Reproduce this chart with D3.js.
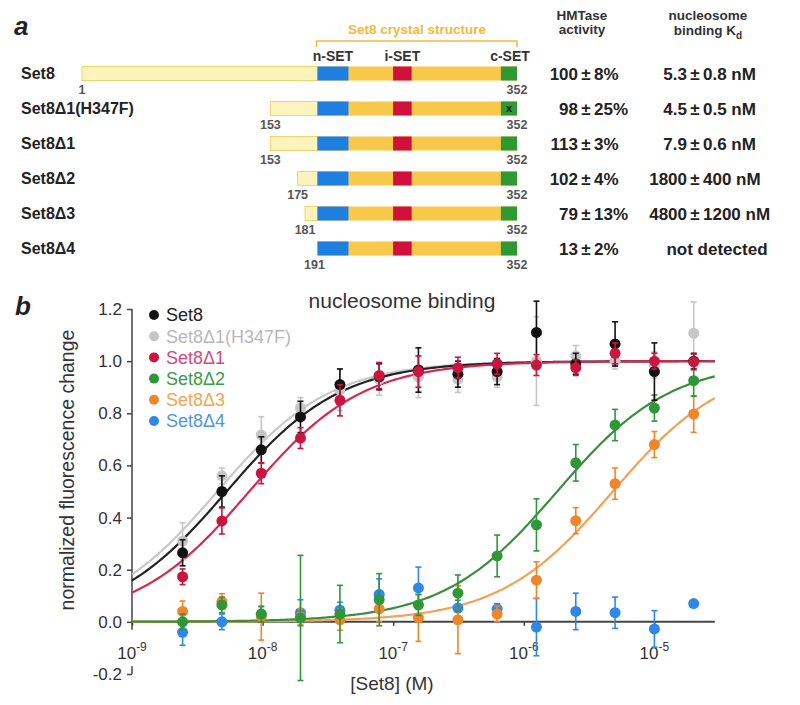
<!DOCTYPE html>
<html><head><meta charset="utf-8">
<script src="https://cdn.jsdelivr.net/npm/d3@7.8.5/dist/d3.min.js"></script>
<style>body{margin:0;background:#fff}svg{display:block}text{font-family:"Liberation Sans",Arial,Helvetica,sans-serif}</style>
</head><body>
<svg id="fig" width="800" height="705"></svg>
<script>
// ---------- Panel a data ----------
const constructs = ["Set8", "Set8Δ1(H347F)", "Set8Δ1", "Set8Δ2", "Set8Δ3", "Set8Δ4"];
const startRes = [1, 153, 153, 175, 181, 191];
const endRes = 352;
const crystalStart = 191;
const mutated = [false, true, false, false, false, false];
const domainNames = ["n-SET", "i-SET", "c-SET"];
const domainStart = [191, 252, 339];
const domainEnd = [216, 267, 352];
const hmtaseVal = [100, 98, 113, 102, 79, 13];
const hmtaseErr = [8, 25, 3, 4, 13, 2];
const kdVal = ["5.3", "4.5", "7.9", "1800", "4800", null];   // nM
const kdErr = ["0.8", "0.5", "0.6", "400", "1200", null];

// ---------- Panel b data ----------
const concM = [2.44e-9, 4.88e-9, 9.77e-9, 1.95e-8, 3.91e-8, 7.81e-8, 1.56e-7, 3.13e-7, 6.25e-7, 1.25e-6, 2.5e-6, 5e-6, 1e-5, 2e-5];
const seriesNames = ["Set8", "Set8Δ1(H347F)", "Set8Δ1", "Set8Δ2", "Set8Δ3", "Set8Δ4"];
const set8 =      [0.265, 0.50, 0.66, 0.786, 0.91, 0.94, 0.966, 0.95, 0.96, 1.11, 0.99, 1.066, 0.96, 1.0];
const set8Err =   [0.05, 0.06, 0.05, 0.06, 0.06, 0.05, 0.085, 0.05, 0.05, 0.12, 0.04, 0.085, 0.11, 0.03];
const h347f =     [0.31, 0.56, 0.717, 0.82, 0.89, 0.93, 0.94, 0.93, 0.94, 1.0, 1.02, 1.0, 0.985, 1.107];
const h347fErr =  [0.07, 0.03, 0.07, 0.04, 0.08, 0.06, 0.08, 0.05, 0.04, 0.17, 0.04, 0.03, 0.05, 0.12];
const d1 =        [0.173, 0.387, 0.57, 0.705, 0.85, 0.945, 0.96, 0.975, 0.99, 0.985, 0.975, 1.03, 1.0, 0.997];
const d1Err =     [0.03, 0.05, 0.04, 0.04, 0.06, 0.05, 0.06, 0.04, 0.04, 0.04, 0.03, 0.04, 0.03, 0.03];
const d2 =        [0.0, 0.065, 0.03, 0.015, 0.03, 0.085, 0.065, 0.11, 0.253, 0.372, 0.61, 0.755, 0.82, 0.925];
const d2Err =     [0.03, 0.03, 0.03, 0.24, 0.11, 0.10, 0.04, 0.07, 0.08, 0.10, 0.07, 0.06, 0.05, 0.06];
const d3v =       [0.04, 0.078, 0.02, 0.02, 0.008, 0.05, 0.015, 0.008, 0.03, 0.16, 0.388, 0.53, 0.68, 0.797];
const d3Err =     [0.04, 0.03, 0.09, 0.03, 0.04, 0.05, 0.09, 0.13, 0.03, 0.07, 0.05, 0.06, 0.05, 0.07];
const d4 =        [-0.04, 0.0, 0.028, 0.035, 0.045, 0.105, 0.13, 0.053, 0.05, -0.02, 0.04, 0.035, -0.027, 0.07];
const d4Err =     [0.05, 0.03, 0.03, 0.05, 0.03, 0.06, 0.08, 0.03, 0.02, 0.11, 0.07, 0.06, 0.07, 0];
const xTicks = [1e-9, 1e-8, 1e-7, 1e-6, 1e-5];
const xTickExp = ["-9", "-8", "-7", "-6", "-5"];
const yTicks = [-0.2, 0.0, 0.2, 0.4, 0.6, 0.8, 1.0, 1.2];
const yTickLabels = ["-0.2", "0.0", "0.2", "0.4", "0.6", "0.8", "1.0", "1.2"];

const svg = d3.select("#fig");
const serif = "'DejaVu Serif','Liberation Serif',serif";

// ================= PANEL A =================
svg.append("text").attr("x", 14).attr("y", 35).attr("font-family", serif)
  .attr("font-style", "italic").attr("font-weight", "bold").attr("font-size", 26).attr("fill", "#222").text("a");

const rx = d3.scaleLinear().domain([1, 352]).range([82, 517]);
const rowY = d3.scalePoint().domain(constructs).range([73.5, 248.5]);
const barH = 14;

// crystal bracket
const gold = "#f2b93b";
svg.append("path").attr("d", `M${rx(191)-1},47 V41 H${rx(352)} V47`).attr("fill", "none").attr("stroke", gold).attr("stroke-width", 1.5);
svg.append("text").attr("x", 417).attr("y", 34).attr("text-anchor", "middle").attr("font-size", 13.5)
  .attr("font-weight", "bold").attr("fill", gold).text("Set8 crystal structure");
domainNames.forEach((n, i) => {
  const cx = i === 2 ? rx(domainEnd[i]) - 7 : (rx(domainStart[i]) + rx(domainEnd[i])) / 2;
  svg.append("text").attr("x", cx).attr("y", 61).attr("text-anchor", "middle").attr("font-size", 14)
    .attr("font-weight", "bold").attr("fill", "#333").text(n);
});
const domColors = ["#1f7fe0", "#d2103c", "#2f9934"];

constructs.forEach((c, i) => {
  const yy = rowY(c);
  const g = svg.append("g");
  g.append("text").attr("x", 21).attr("y", yy).attr("dy", "0.36em").attr("font-size", 16)
    .attr("font-weight", "bold").attr("fill", "#222").text(c);
  if (startRes[i] < crystalStart) {
    g.append("rect").attr("x", rx(startRes[i])).attr("y", yy - barH / 2).attr("width", rx(crystalStart) - rx(startRes[i]))
      .attr("height", barH).attr("fill", "#fdf4bd").attr("stroke", "#f1d36c").attr("stroke-width", 1);
  }
  g.append("rect").attr("x", rx(crystalStart)).attr("y", yy - barH / 2).attr("width", rx(endRes) - rx(crystalStart))
    .attr("height", barH).attr("fill", "#f8c84b");
  domainNames.forEach((n, j) => {
    g.append("rect").attr("x", rx(domainStart[j])).attr("y", yy - barH / 2).attr("width", rx(domainEnd[j]) - rx(domainStart[j]))
      .attr("height", barH).attr("fill", domColors[j]);
  });
  if (mutated[i]) {
    g.append("text").attr("x", (rx(339) + rx(352)) / 2).attr("y", yy).attr("dy", "0.35em").attr("text-anchor", "middle")
      .attr("font-size", 11).attr("font-weight", "bold").attr("fill", "#111").text("x");
  }
  g.append("text").attr("x", rx(startRes[i]) - (startRes[i] === 191 ? 3 : 0)).attr("y", yy + 20).attr("text-anchor", "middle")
    .attr("font-size", 12.5).attr("font-weight", "bold").attr("fill", "#555").text(startRes[i]);
  g.append("text").attr("x", rx(endRes)).attr("y", yy + 20).attr("text-anchor", "middle")
    .attr("font-size", 12.5).attr("font-weight", "bold").attr("fill", "#555").text(endRes);

  // table values aligned on ±
  const pmA = 586, pmB = 695;
  g.append("text").attr("x", pmA - 8).attr("y", yy).attr("dy", "0.36em").attr("text-anchor", "end")
    .attr("font-size", 17).attr("font-weight", "bold").attr("fill", "#222").text(hmtaseVal[i]);
  g.append("text").attr("x", pmA).attr("y", yy).attr("dy", "0.36em").attr("text-anchor", "middle")
    .attr("font-size", 17).attr("font-weight", "bold").attr("fill", "#222").text("±");
  g.append("text").attr("x", pmA + 8).attr("y", yy).attr("dy", "0.36em").attr("text-anchor", "start")
    .attr("font-size", 17).attr("font-weight", "bold").attr("fill", "#222").text(hmtaseErr[i] + "%");
  if (kdVal[i] !== null) {
    g.append("text").attr("x", pmB - 8).attr("y", yy).attr("dy", "0.36em").attr("text-anchor", "end")
      .attr("font-size", 17).attr("font-weight", "bold").attr("fill", "#222").text(kdVal[i]);
    g.append("text").attr("x", pmB).attr("y", yy).attr("dy", "0.36em").attr("text-anchor", "middle")
      .attr("font-size", 17).attr("font-weight", "bold").attr("fill", "#222").text("±");
    g.append("text").attr("x", pmB + 8).attr("y", yy).attr("dy", "0.36em").attr("text-anchor", "start")
      .attr("font-size", 17).attr("font-weight", "bold").attr("fill", "#222").text(kdErr[i] + " nM");
  } else {
    g.append("text").attr("x", 717).attr("y", yy).attr("dy", "0.36em").attr("text-anchor", "middle")
      .attr("font-size", 17).attr("font-weight", "bold").attr("fill", "#222").text("not detected");
  }
});
// table headers
[["HMTase", 582, 20], ["activity", 582, 34], ["nucleosome", 708, 20]].forEach(h => {
  svg.append("text").attr("x", h[1]).attr("y", h[2]).attr("text-anchor", "middle").attr("font-size", 13.5)
    .attr("font-weight", "bold").attr("fill", "#333").text(h[0]);
});
const kdH = svg.append("text").attr("x", 708).attr("y", 35).attr("text-anchor", "middle").attr("font-size", 13.5)
  .attr("font-weight", "bold").attr("fill", "#333");
kdH.append("tspan").text("binding K");
kdH.append("tspan").attr("font-size", 10).attr("dy", 4).text("d");

// ================= PANEL B =================
svg.append("text").attr("x", 15).attr("y", 315).attr("font-family", serif)
  .attr("font-style", "italic").attr("font-weight", "bold").attr("font-size", 26).attr("fill", "#222").text("b");

const xs = d3.scaleLog().domain([1e-9, 1e-4]).range([132, 132 + 5 * 130.6]);
const ys = d3.scaleLinear().domain([-0.2, 1.2]).range([674, 309]);
const xEnd = 2.9e-5;
const axisCol = "#444";

// y axis
const ya = svg.append("g").attr("transform", "translate(132,0)")
  .call(d3.axisLeft(ys).tickValues(yTicks).tickFormat((d, i) => yTickLabels[i]).tickSize(5).tickPadding(5));
ya.select(".domain").remove();
ya.selectAll(".tick line").attr("stroke", axisCol).attr("stroke-width", 1.5);
ya.selectAll(".tick text").attr("font-size", 17).attr("fill", "#333").style("font-family", "'Liberation Sans',Arial,sans-serif");
svg.append("line").attr("x1", 132).attr("x2", 132).attr("y1", ys(1.2)).attr("y2", ys(-0.03)).attr("stroke", axisCol).attr("stroke-width", 1.5);
svg.append("line").attr("x1", 132).attr("x2", 132).attr("y1", ys(-0.17)).attr("y2", ys(-0.2)).attr("stroke", axisCol).attr("stroke-width", 1.5);

// x axis
svg.append("line").attr("x1", 132).attr("x2", xs(xEnd)).attr("y1", ys(0)).attr("y2", ys(0)).attr("stroke", axisCol).attr("stroke-width", 2);
const xa = svg.append("g").attr("transform", `translate(0,${ys(0)})`)
  .call(d3.axisBottom(xs).tickValues(xTicks).tickSize(4).tickFormat(""));
xa.select(".domain").remove();
xa.selectAll(".tick line").attr("stroke", axisCol).attr("stroke-width", 1.5);
xTicks.forEach((t, i) => {
  const tx = svg.append("text").attr("x", xs(t)).attr("y", 659).attr("text-anchor", "middle")
    .attr("font-size", 17).attr("fill", "#333");
  tx.append("tspan").text("10");
  tx.append("tspan").attr("font-size", 12).attr("dy", -8).text(xTickExp[i]);
});
svg.append("text").attr("x", 392).attr("y", 690).attr("text-anchor", "middle").attr("font-size", 19)
  .attr("fill", "#333").text("[Set8] (M)");
svg.append("text").attr("transform", "translate(74,470) rotate(-90)").attr("text-anchor", "middle")
  .attr("font-size", 19.5).attr("fill", "#333").text("normalized fluorescence change");
svg.append("text").attr("x", 402).attr("y", 308).attr("text-anchor", "middle").attr("font-size", 21)
  .attr("fill", "#333").text("nucleosome binding");

// series definitions
const series = [
  { name: seriesNames[5], vals: d4, err: d4Err, kd: null, color: "#2f88e8", line: null, legend: "#4f97dc" },
  { name: seriesNames[4], vals: d3v, err: d3Err, kd: kdVal[4], color: "#f0862a", line: "#f2a257", legend: "#f1a653" },
  { name: seriesNames[3], vals: d2, err: d2Err, kd: kdVal[3], color: "#2e9838", line: "#3a8e3e", legend: "#3e9b48" },
  { name: seriesNames[1], vals: h347f, err: h347fErr, kd: kdVal[1], color: "#c6c6c6", line: "#c9c9c9", legend: "#b9b9b9" },
  { name: seriesNames[0], vals: set8, err: set8Err, kd: kdVal[0], color: "#111111", line: "#222222", legend: "#222222" },
  { name: seriesNames[2], vals: d1, err: d1Err, kd: kdVal[2], color: "#cc1441", line: "#d42a52", legend: "#d24a7c" }
];

// fitted binding curves: fraction bound = [Set8] / (Kd + [Set8]) using Kd from the table
const curveX = d3.range(0, 201).map(i => Math.pow(10, Math.log10(1e-9) + i / 200 * (Math.log10(xEnd) + 9)));
const lineGen = d3.line().x(d => xs(d[0])).y(d => ys(d[1]));
series.forEach(s => {
  if (!s.kd) return;
  const kdM = +s.kd * 1e-9;
  svg.append("path").attr("d", lineGen(curveX.map(c => [c, c / (kdM + c)])))
    .attr("fill", "none").attr("stroke", s.line).attr("stroke-width", 2.2);
});

// points + error bars
series.forEach(s => {
  const g = svg.append("g");
  s.vals.forEach((v, i) => {
    const cx = xs(concM[i]);
    const e = s.err[i];
    if (e > 0) {
      g.append("line").attr("x1", cx).attr("x2", cx).attr("y1", ys(v - e)).attr("y2", ys(v + e)).attr("stroke", s.color).attr("stroke-width", 1.6);
      [v - e, v + e].forEach(ev => g.append("line").attr("x1", cx - 3).attr("x2", cx + 3).attr("y1", ys(ev)).attr("y2", ys(ev))
        .attr("stroke", s.color).attr("stroke-width", 1.6));
    }
    g.append("circle").attr("cx", cx).attr("cy", ys(v)).attr("r", 5.5).attr("fill", s.color);
  });
});

// legend
const legY = d3.scalePoint().domain(seriesNames).range([315, 421]);
const legendOrder = [4, 3, 5, 2, 1, 0];
seriesNames.forEach((n, i) => {
  const s = series[legendOrder[i]];
  svg.append("circle").attr("cx", 154).attr("cy", legY(n)).attr("r", 5).attr("fill", s.color);
  svg.append("text").attr("x", 166).attr("y", legY(n)).attr("dy", "0.36em").attr("font-size", 18)
    .attr("fill", s.legend).text(n);
});
</script>
</body></html>
